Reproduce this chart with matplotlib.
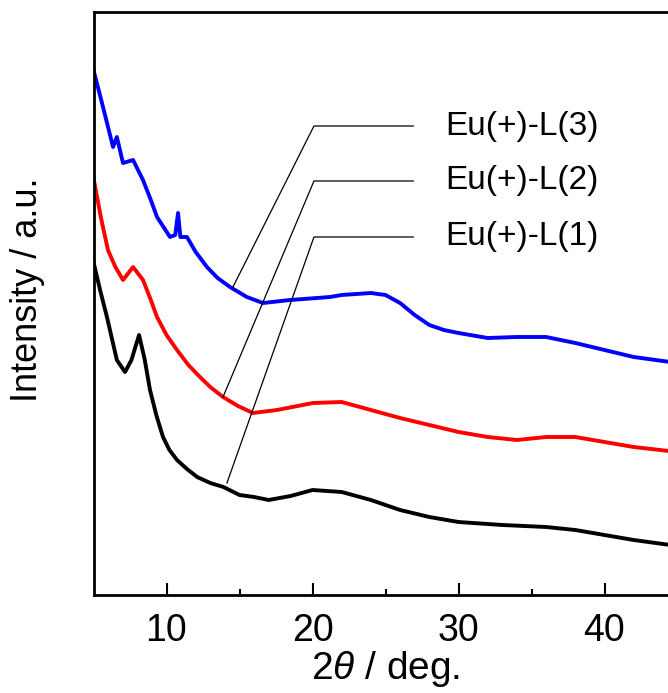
import matplotlib
matplotlib.use("Agg")
import matplotlib.pyplot as plt

plt.rcParams['font.family'] = ['Liberation Sans', 'DejaVu Sans']
plt.rcParams['mathtext.fontset'] = 'custom'
plt.rcParams['mathtext.rm'] = 'Liberation Sans'
plt.rcParams['mathtext.it'] = 'Liberation Sans:italic'

# --- data (2theta in deg, intensity in arbitrary offset units) ---
x_l1 = [5.0, 5.45, 5.92, 6.6, 7.16, 7.6, 8.12, 8.5, 8.87, 9.3, 9.76, 10.2, 10.72, 11.4,
        12.1, 13.0, 13.9, 15.0, 16.0, 17.0, 18.5, 20.0, 22.0, 24.0, 26.0, 28.0, 30.0,
        33.0, 36.0, 38.0, 40.0, 42.0, 45.0]
y_l1 = [333, 305, 278, 235, 223, 235, 260, 236, 205, 180, 158, 145, 135, 126,
        118, 112, 108, 100, 98, 95, 99, 105, 103, 95, 85, 78, 73,
        70, 68, 65, 60, 55, 49]

x_l2 = [5.0, 5.5, 5.99, 6.5, 7.02, 7.71, 8.39, 8.9, 9.35, 10.0, 10.72, 11.5, 12.29,
        13.0, 13.87, 14.9, 15.92, 17.57, 20.03, 22.0, 24.0, 26.0, 28.0, 30.0, 32.0,
        34.0, 36.0, 38.0, 40.0, 42.0, 45.0]
y_l2 = [417, 378, 345, 328, 315, 328, 315, 296, 278, 260, 245, 230, 218,
        208, 198, 189, 182, 185, 192, 193, 185, 177, 170, 163, 158,
        155, 158, 158, 153, 148, 143]

x_l3 = [5.0, 5.65, 6.34, 6.6, 7.02, 7.71, 8.39, 8.9, 9.35, 10.24, 10.6, 10.79, 10.95,
        11.4, 12.0, 12.77, 13.5, 14.35, 15.5, 16.61, 18.46, 21.2, 22.0, 24.0, 25.0,
        26.0, 27.0, 28.0, 29.0, 30.0, 32.0, 34.0, 36.0, 38.0, 40.0, 42.0, 45.0]
y_l3 = [525, 488, 448, 458, 432, 435, 415, 396, 378, 358, 360, 382, 358,
        358, 343, 328, 317, 308, 298, 292, 295, 298, 300, 302, 300,
        292, 280, 270, 265, 262, 257, 258, 258, 252, 245, 238, 232]

labels = ['Eu(+)-L(1)', 'Eu(+)-L(2)', 'Eu(+)-L(3)']
colors = ['black', 'red', 'blue']
xticks = [10, 20, 30, 40]

fig = plt.figure(figsize=(6.68, 6.93), dpi=100)
ax = fig.add_axes([93.5 / 668, 1 - 595 / 693, (677.5 - 93.5) / 668, (595 - 12) / 693])

series = [(x_l1, y_l1), (x_l2, y_l2), (x_l3, y_l3)]
for (xs, ys), c in zip(series, colors):
    ax.plot(xs, ys, color=c, lw=2.8, solid_joinstyle='round')

# annotation leader lines (target point on curve, knee, label)
anchors = [(14.14, 112, 358), (13.87, 198, 414), (14.55, 308, 469)]
for (xa, ya, yl), lab in zip(anchors, labels):
    ax.plot([xa, 20.1, 26.9], [ya, yl, yl], color='black', lw=0.9)
    ax.text(29.1, yl, lab, fontsize=24, va='center', ha='left')

ax.set_xlim(5, 45)
ax.set_ylim(0, 583)
ax.set_xticks(xticks)
ax.set_xticks([15, 25, 35], minor=True)
ax.set_yticks([])
ax.tick_params(axis='x', which='major', direction='in', length=9, width=1.5,
               labelsize=27, pad=13)
ax.tick_params(axis='x', which='minor', direction='in', length=4, width=1.5)
for s in ax.spines.values():
    s.set_linewidth(2)

ax.set_xlabel(r'2$\mathit{\theta}$ / deg.', fontsize=28, labelpad=0)
ax.set_ylabel('Intensity / a.u.', fontsize=26)
ax.yaxis.set_label_coords(-0.083, 0.523)

fig.savefig('out.png', dpi=100)
